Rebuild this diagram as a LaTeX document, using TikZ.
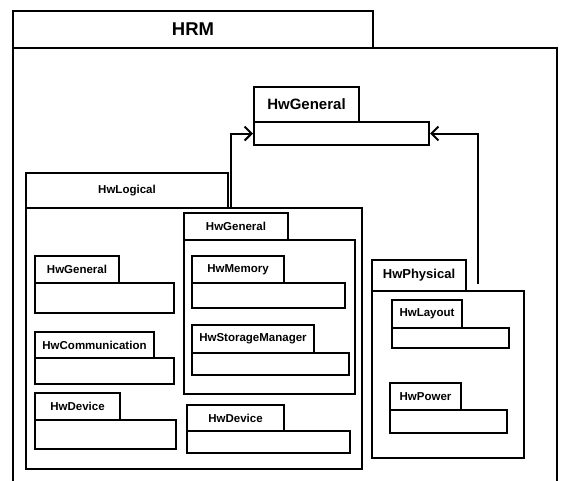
\documentclass[tikz,border=0pt]{standalone}
\usepackage{fontspec}
\setmainfont{Liberation Sans}
\usetikzlibrary{arrows.meta}
\tikzset{
  pkgline/.style={draw=black, line width=2pt, inner sep=0pt, anchor=north west, fill=white},
  pkgtab/.style={pkgline, font=\bfseries\fontsize{11.5}{12}\selectfont},
  pkgbody/.style={pkgline},
  dep/.style={draw=black, line width=2pt, -{Straight Barb[length=7pt,width=14pt,line width=2pt]}},
}
% #1 name, #2 x1, #3 tab top, #4 tab right, #5 tab bottom/body top, #6 body right, #7 body bottom, #8 label, #9 extra style
\newcommand\umlpkg[9]{%
  \node[pkgbody, minimum width={#6pt-#2pt}, minimum height={#7pt-#5pt}] (#1b) at (#2,#5) {};
  \node[pkgtab, #9, minimum width={#4pt-#2pt}, minimum height={#5pt-#3pt}] (#1t) at (#2,#3) {#8};
}
\begin{document}
\begin{tikzpicture}[x=1pt,y=-1pt]
\useasboundingbox (0,0) rectangle (564,480);
\clip (0,0) rectangle (564,480);
\fill[white] (0,0) rectangle (564,480);
% HRM
\umlpkg{hrm}{12}{10}{372}{47}{556}{490}{HRM}{font=\bfseries\fontsize{18.5}{20}\selectfont}
% HwGeneral top
\umlpkg{gen}{253}{86}{358}{121}{428}{144}{HwGeneral}{font=\bfseries\fontsize{15}{16}\selectfont}
% HwLogical
\umlpkg{log}{25}{172}{227}{207}{361}{468}{HwLogical}{}
\umlpkg{lgen}{34}{255}{118}{282}{173}{312}{HwGeneral}{}
\umlpkg{lcom}{34}{331}{153}{357}{173}{383}{HwCommunication}{}
\umlpkg{ldev}{34}{392}{119}{419}{175}{448}{HwDevice}{}
\umlpkg{mgen}{183}{212}{287}{239}{354}{393}{HwGeneral}{}
\umlpkg{mmem}{191}{255}{283}{282}{344}{307}{HwMemory}{}
\umlpkg{msto}{191}{324}{313}{352}{348}{374}{HwStorageManager}{}
\umlpkg{mdev}{186}{404}{283}{430}{349}{452}{HwDevice}{}
% HwPhysical
\umlpkg{phy}{371}{259}{465}{290}{523}{457}{HwPhysical}{font=\bfseries\fontsize{13}{14}\selectfont}
\umlpkg{play}{391}{299}{461}{327}{508}{347}{HwLayout}{}
\umlpkg{ppow}{389}{382}{460}{409}{506}{432}{HwPower}{}
% dependencies
\draw[dep] ([xshift=206pt]logb.north west) |- (genb.west);
\draw[dep] ([xshift=107pt,yshift=6pt]phyb.north west) |- (genb.east);
\end{tikzpicture}
\end{document}
